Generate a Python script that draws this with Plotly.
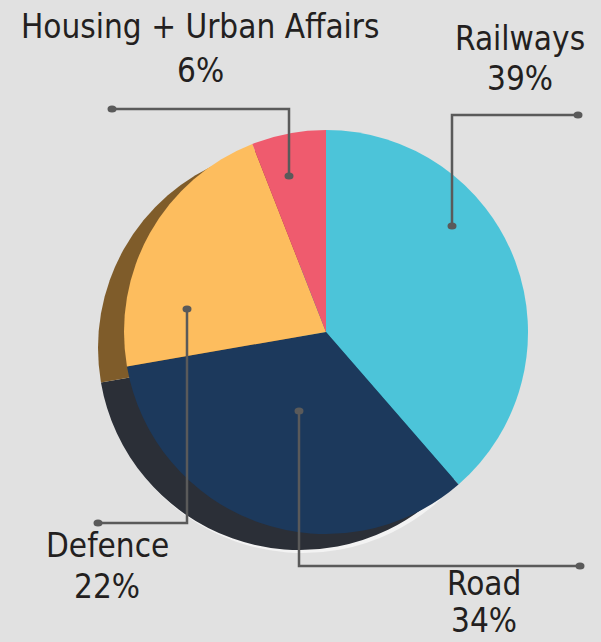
import plotly.graph_objects as go

# Budget share by sector (percent)
sectors = ["Railways", "Road", "Defence", "Housing + Urban Affairs"]
shares = [39, 34, 22, 6]
face_colors = ["#4cc4d9", "#1c395c", "#fdbd5e", "#ef5b6e"]
rim_colors = ["#2c7f8d", "#2b2f37", "#7f5c2a", "#8a3440"]

W, H = 601, 642
BG = "#e1e1e1"
LINE = "#5a5a5a"
TEXT = "#231f20"
FONT = "DejaVu Sans Condensed"
FONT_SIZE = 33


def px(x):
    return x / W


def py(y):
    return 1 - y / H


def domain(cx, cy, r):
    return dict(x=[px(cx - r), px(cx + r)], y=[py(cy + r), py(cy - r)])


fig = go.Figure()

# soft light edge under the rim
fig.add_trace(go.Pie(
    labels=sectors, values=shares, sort=False, direction="clockwise",
    marker=dict(colors=["#f3f3f3"] * 4, line=dict(width=0)),
    textinfo="none", hoverinfo="skip", showlegend=False,
    domain=domain(303, 350, 203),
))

# darker rim giving the pie its depth
fig.add_trace(go.Pie(
    labels=sectors, values=shares, sort=False, direction="clockwise",
    marker=dict(colors=rim_colors, line=dict(width=0)),
    textinfo="none", hoverinfo="skip", showlegend=False,
    domain=domain(300, 348, 202),
))

# pie face
fig.add_trace(go.Pie(
    labels=sectors, values=shares, sort=False, direction="clockwise",
    marker=dict(colors=face_colors, line=dict(width=0)),
    textinfo="none", hoverinfo="skip", showlegend=False,
    domain=domain(326, 332, 202),
))

# leader lines: (dot on slice), (corner), (outer dot)
leaders = {
    "Railways": [(452, 226), (452, 115), (578, 115)],
    "Road": [(299, 411), (299, 566), (580, 566)],
    "Defence": [(187, 309), (187, 523), (98, 523)],
    "Housing + Urban Affairs": [(289, 176), (289, 109), (112, 109)],
}
# label centre x, name line y, percent line y
label_pos = {
    "Railways": (520, 38, 78),
    "Road": (484, 583, 620),
    "Defence": (107, 545, 586),
    "Housing + Urban Affairs": (200, 27, 70),
}

shapes = []
for name, pts in leaders.items():
    path = "M " + " L ".join(f"{px(x)},{py(y)}" for x, y in pts)
    shapes.append(dict(type="path", xref="paper", yref="paper", path=path,
                       line=dict(color=LINE, width=2.5), layer="above"))
    for x, y in (pts[0], pts[-1]):
        shapes.append(dict(type="circle", xref="paper", yref="paper",
                           x0=px(x - 4.5), x1=px(x + 4.5),
                           y0=py(y + 3.5), y1=py(y - 3.5),
                           fillcolor=LINE, line=dict(width=0), layer="above"))

annotations = []
for name, share in zip(sectors, shares):
    x, y1, y2 = label_pos[name]
    for text, y in ((name, y1), (f"{share}%", y2)):
        annotations.append(dict(x=px(x), y=py(y), xref="paper", yref="paper",
                                text=text, showarrow=False,
                                font=dict(family=FONT, size=FONT_SIZE, color=TEXT),
                                xanchor="center", yanchor="middle"))

fig.update_layout(
    width=W, height=H,
    margin=dict(l=0, r=0, t=0, b=0),
    paper_bgcolor=BG, plot_bgcolor=BG,
    shapes=shapes, annotations=annotations,
    showlegend=False,
)

fig.write_html("out.html")
